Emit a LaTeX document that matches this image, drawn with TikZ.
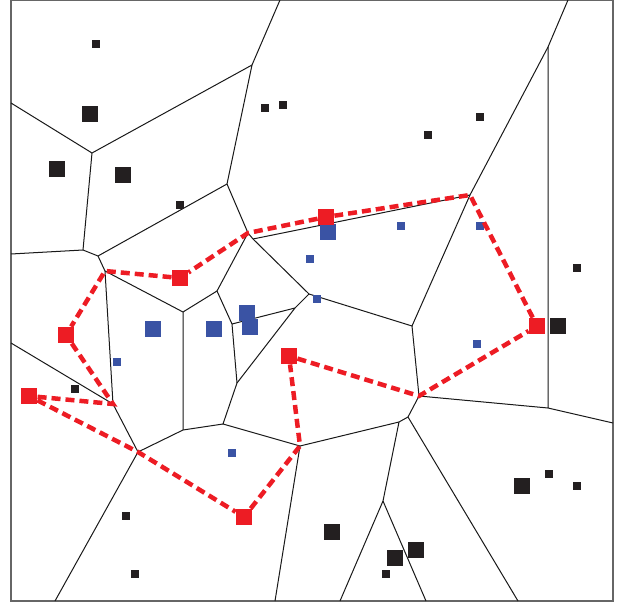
\documentclass[tikz,border=0pt]{standalone}
\definecolor{sqblack}{HTML}{231F20}
\definecolor{sqblue}{HTML}{3A53A4}
\definecolor{sqred}{HTML}{ED1C24}
\begin{document}
\begin{tikzpicture}[x=1pt,y=-1pt,
  cell/.style={line width=1pt,black!90},
  tour/.style={sqred,line width=4.5pt,dash pattern=on 9pt off 5pt},
  small/.style={rectangle,inner sep=0pt,minimum size=8.5pt},
  large/.style={rectangle,inner sep=0pt,minimum size=16.5pt},
  bsq/.style={fill=sqblack},
  usq/.style={fill=sqblue},
  rsq/.style={fill=sqred}]
\useasboundingbox (0,0) rectangle (624,604);
\draw[line width=1.2pt,black!60] (11,0) rectangle (613,601);
\coordinate (tA) at (280,0);
\coordinate (tL) at (568,0);
\coordinate (lB) at (11,103);
\coordinate (lC) at (11,254);
\coordinate (lY) at (11,343);
\coordinate (rK) at (613,423);
\coordinate (bZ) at (55,601);
\coordinate (bP) at (275,601);
\coordinate (bO1) at (340,601);
\coordinate (bO2) at (426,601);
\coordinate (bM) at (518,601);
\coordinate (A) at (252,65);
\coordinate (B) at (92,153);
\coordinate (C) at (83,250);
\coordinate (D) at (98,256);
\coordinate (E) at (227,184);
\coordinate (F) at (248,233);
\coordinate (F2) at (253,239);
\coordinate (G) at (470,195);
\coordinate (L) at (548,47);
\coordinate (H) at (309,294);
\coordinate (U) at (295,308);
\coordinate (I) at (412,326);
\coordinate (J) at (419,396);
\coordinate (K) at (548,408);
\coordinate (M) at (408,417);
\coordinate (N) at (399,422);
\coordinate (O) at (383,501);
\coordinate (P) at (300,446);
\coordinate (Q) at (223,424);
\coordinate (R) at (237,383);
\coordinate (S) at (183,430);
\coordinate (T) at (232,324);
\coordinate (V) at (217,291);
\coordinate (W) at (183,312);
\coordinate (X) at (105,271);
\coordinate (Y) at (113,404);
\coordinate (Z) at (138,452);
\draw[cell] (tA) -- (A) -- (B) -- (lB);
\draw[cell] (B) -- (C) -- (lC);
\draw[cell] (C) -- (D) -- (E) -- (A);
\draw[cell] (E) -- (F) -- (F2) -- (H);
\draw[cell] (F2) -- (G) -- (L) -- (tL);
\draw[cell] (L) -- (K) -- (rK);
\draw[cell] (G) -- (I) -- (H);
\draw[cell] (I) -- (J) -- (K);
\draw[cell] (J) -- (M) -- (N) -- (P) -- (bP);
\draw[cell] (M) -- (bM);
\draw[cell] (N) -- (O) -- (bO1);
\draw[cell] (O) -- (bO2);
\draw[cell] (P) -- (Q) -- (R) -- (U) -- (H);
\draw[cell] (Q) -- (S);
\draw[cell] (U) -- (T) -- (R);
\draw[cell] (T) -- (V) -- (F);
\draw[cell] (V) -- (W) -- (S);
\draw[cell] (W) -- (X) -- (D);
\draw[cell] (X) -- (Y) -- (lY);
\draw[cell] (Y) -- (Z) -- (S);
\draw[cell] (Z) -- (bZ);
\node[small,bsq] (k1) at (96,44) {};
\node[large,bsq] (k2) at (90,114) {};
\node[large,bsq] (k3) at (57,169) {};
\node[large,bsq] (k4) at (123,175) {};
\node[small,bsq] (k5) at (180,205) {};
\node[small,bsq] (k6) at (265,108) {};
\node[small,bsq] (k7) at (283,105) {};
\node[small,bsq] (k8) at (480,117) {};
\node[small,bsq] (k9) at (428,135) {};
\node[small,bsq] (k10) at (577,268) {};
\node[large,bsq] (k11) at (558,326) {};
\node[large,bsq] (k12) at (522,486) {};
\node[small,bsq] (k13) at (549,474) {};
\node[small,bsq] (k14) at (577,486) {};
\node[large,bsq] (k15) at (332,532) {};
\node[large,bsq] (k16) at (395,558) {};
\node[large,bsq] (k17) at (416,550) {};
\node[small,bsq] (k18) at (386,574) {};
\node[small,bsq] (k19) at (75,389) {};
\node[small,bsq] (k20) at (126,516) {};
\node[small,bsq] (k21) at (135,574) {};
\node[small,usq] (u1) at (401,226) {};
\node[small,usq] (u2) at (480,226) {};
\node[large,usq] (u3) at (328,232) {};
\node[small,usq] (u4) at (310,259) {};
\node[small,usq] (u5) at (317,299) {};
\node[large,usq] (u6) at (153,329) {};
\node[large,usq] (u7) at (214,329) {};
\node[large,usq] (u8) at (247,313) {};
\node[large,usq] (u9) at (250,327) {};
\node[small,usq] (u10) at (117,362) {};
\node[small,usq] (u11) at (477,344) {};
\node[small,usq] (u12) at (232,453) {};
\node[large,rsq] (r1) at (326,217) {};
\node[large,rsq] (r2) at (180,278) {};
\node[large,rsq] (r3) at (66,335) {};
\node[large,rsq] (r4) at (29,396) {};
\node[large,rsq] (r5) at (244,517) {};
\node[large,rsq] (r6) at (289,356) {};
\node[large,rsq] (r7) at (537,326) {};
\draw[tour] (r1) -- (F) -- (r2) -- (X) -- (r3) -- (Y) -- (r4) -- (Z) -- (r5)
  -- (P) -- (r6) -- (J) -- (r7) -- (G) -- (r1);
\end{tikzpicture}
\end{document}
